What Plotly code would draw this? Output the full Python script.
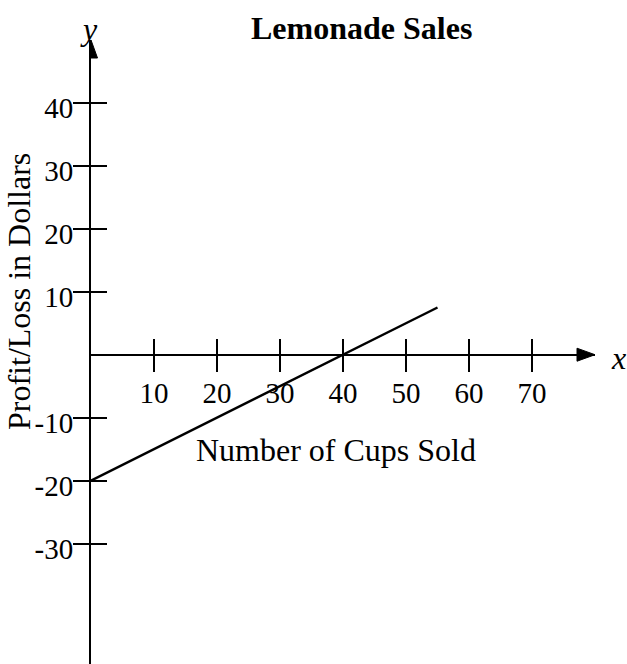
import plotly.graph_objects as go

# ---- data ----
cups_sold = [0, 55]
profit = [-20, 7.5]
x_tick_vals = [10, 20, 30, 40, 50, 60, 70]
x_tick_text = ["10", "20", "30", "40", "50", "60", "70"]
y_tick_vals = [-30, -20, -10, 10, 20, 30, 40]
y_tick_text = ["-30", "-20", "-10", "10", "20", "30", "40"]
title_text = "Lemonade Sales"
x_label = "Number of Cups Sold"
y_label = "Profit/Loss in Dollars"

# ---- layout constants ----
W, H = 627, 664
ML, MT, MB = 91, 40, 0
PW = 504
MR = W - ML - PW
X_RANGE = [0, 80]
Y_RANGE = [-49.14, 50]
FONT = "Liberation Serif, Times New Roman, serif"
AX_W = 2
TICK_LEN = 16

PH = H - MT - MB


def px(xp):
    return (xp - ML) / PW


def py(yp):
    return (H - MB - yp) / PH


zero_pos = (0 - Y_RANGE[0]) / (Y_RANGE[1] - Y_RANGE[0])

fig = go.Figure()
fig.add_trace(go.Scatter(
    x=cups_sold, y=profit, mode="lines",
    line=dict(color="black", width=2.4),
    hoverinfo="skip", showlegend=False, cliponaxis=False,
))
# dummy trace so the overlay axes (inner tick halves) are drawn
fig.add_trace(go.Scatter(
    x=cups_sold, y=profit, mode="lines", xaxis="x2", yaxis="y2",
    line=dict(color="rgba(0,0,0,0)"), hoverinfo="skip", showlegend=False,
))

common = dict(
    showgrid=False, zeroline=False, ticks="outside", ticklen=TICK_LEN,
    tickwidth=AX_W, tickcolor="black", linecolor="black", linewidth=AX_W,
    tickfont=dict(family=FONT, size=29, color="black"), fixedrange=True,
)

fig.update_layout(
    width=W, height=H,
    margin=dict(l=ML, r=MR, t=MT, b=MB, pad=0),
    plot_bgcolor="white", paper_bgcolor="white",
    showlegend=False,
    xaxis=dict(
        range=X_RANGE, tickvals=x_tick_vals, ticktext=x_tick_text,
        anchor="free", position=zero_pos, showline=True, side="bottom",
        ticklabelstandoff=-4,
        **common,
    ),
    yaxis=dict(
        range=Y_RANGE, tickvals=y_tick_vals, ticktext=y_tick_text,
        anchor="x", showline=True, side="left", ticklabelshift=5,
        ticklabelstandoff=-6,
        **common,
    ),
    xaxis2=dict(
        range=X_RANGE, tickvals=x_tick_vals, overlaying="x", anchor="free",
        position=zero_pos, side="bottom", showline=False, showgrid=False,
        zeroline=False, ticks="inside", ticklen=TICK_LEN, tickwidth=AX_W,
        tickcolor="black", showticklabels=False, fixedrange=True,
    ),
    yaxis2=dict(
        range=Y_RANGE, tickvals=y_tick_vals, overlaying="y", anchor="x2",
        side="left", showline=False, showgrid=False, zeroline=False,
        ticks="inside", ticklen=TICK_LEN, tickwidth=AX_W, tickcolor="black",
        showticklabels=False, fixedrange=True,
    ),
)

# arrowheads at the axis ends (pixel-sized, anchored at axis maxima)
fig.add_shape(type="path", xref="x", yref="y", xsizemode="pixel", ysizemode="pixel",
              xanchor=0, yanchor=Y_RANGE[1], path="M0,0 L-6.5,-18 L6.5,-18 Z",
              fillcolor="black", line=dict(color="black", width=1))
fig.add_shape(type="path", xref="x", yref="y", xsizemode="pixel", ysizemode="pixel",
              xanchor=X_RANGE[1], yanchor=0, path="M0,0 L-18,6.5 L-18,-6.5 Z",
              fillcolor="black", line=dict(color="black", width=1))

ann_font = dict(family=FONT, size=32, color="black")
fig.add_annotation(text="<b>" + title_text + "</b>", xref="paper", yref="paper",
                   x=px(361.5), y=py(28), showarrow=False, font=ann_font,
                   xanchor="center", yanchor="middle")
fig.add_annotation(text=x_label, xref="paper", yref="paper",
                   x=px(335.5), y=py(450), showarrow=False, font=ann_font,
                   xanchor="center", yanchor="middle")
fig.add_annotation(text=y_label, xref="paper", yref="paper", textangle=-90,
                   x=px(19), y=py(292), showarrow=False, font=ann_font,
                   xanchor="center", yanchor="middle")
fig.add_annotation(text="<i>x</i>", xref="paper", yref="paper",
                   x=px(618), y=py(358), showarrow=False, font=ann_font,
                   xanchor="center", yanchor="middle")
fig.add_annotation(text="<i>y</i>", xref="paper", yref="paper",
                   x=px(89), y=py(29), showarrow=False, font=ann_font,
                   xanchor="center", yanchor="middle")

fig.write_html(
    "out.html",
    config={"displayModeBar": False, "staticPlot": True},
    post_script="document.body.style.margin='0';document.body.style.overflow='hidden';",
)
